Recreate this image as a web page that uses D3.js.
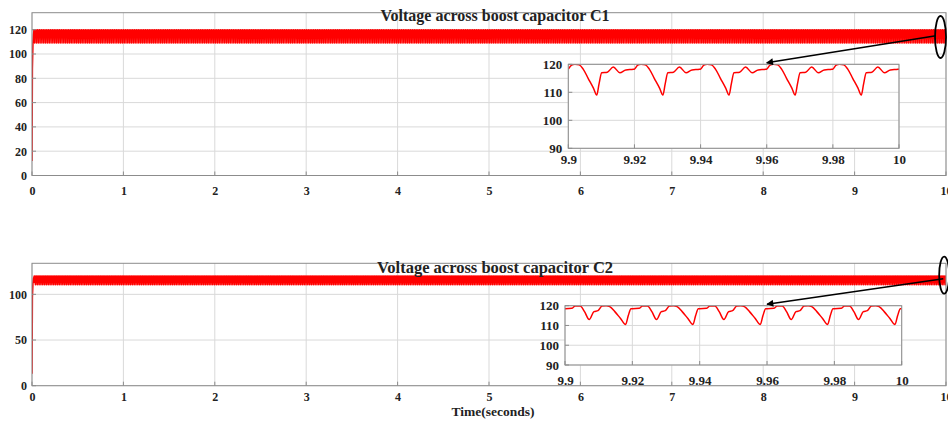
<!DOCTYPE html>
<html>
<head>
<meta charset="utf-8">
<script src="https://cdn.jsdelivr.net/npm/d3@7"></script>
<style>
  html, body { margin: 0; padding: 0; background: #fff; overflow: hidden; }
  svg text { font-family: "Liberation Serif", "Times New Roman", serif; font-weight: bold; fill: #222; }
</style>
</head>
<body>
<svg id="chart" width="948" height="421"></svg>
<script>
// ---- data -------------------------------------------------------------
const period = 0.02;          // switching ripple period (s)
const tEnd = 10;              // simulation length (s)

const mainTicksX = [0, 1, 2, 3, 4, 5, 6, 7, 8, 9, 10];
const c1TicksY = [0, 20, 40, 60, 80, 100, 120];
const c2TicksY = [0, 50, 100];
const insetTicksX = [9.9, 9.92, 9.94, 9.96, 9.98, 10];
const insetTickLabelsX = ["9.9", "9.92", "9.94", "9.96", "9.98", "10"];
const insetTicksY = [90, 100, 110, 120];

// start-up transient of C1 (time s, voltage V)
const c1StartT = [0, 0.004, 0.010, 0.016];
const c1StartV = [12, 88, 108, 116];
// one steady-state ripple cycle of C1 (phase within period s, voltage V)
const c1CyclePhase = [0, 0.0010, 0.0020, 0.0033, 0.0045, 0.0060, 0.0076, 0.0086, 0.0093, 0.0101, 0.0118, 0.0136, 0.0156, 0.0174, 0.0197];
const c1CycleV     = [118.3, 119.7, 120, 119.8, 118.3, 115, 111.5, 109, 113, 117, 117.2, 119, 117, 118, 118.2];

// start-up transient of C2
const c2StartT = [0, 0.004, 0.010, 0.016];
const c2StartV = [13, 97, 112, 117];
// one steady-state ripple cycle of C2
const c2CyclePhase = [0, 0.0020, 0.0030, 0.0045, 0.0058, 0.0072, 0.0086, 0.0098, 0.0110, 0.0122, 0.0133, 0.0148, 0.0165, 0.0180, 0.0188, 0.0196];
const c2CycleV     = [118.5, 118.7, 119.8, 119.9, 117, 113, 117, 117.5, 119.8, 120, 119.5, 117, 113.5, 110.5, 115, 118.5];

const titles = ["Voltage across boost capacitor C1", "Voltage across boost capacitor C2"];
const xLabel = "Time(seconds)";

// ---- build the full waveforms: transient, then the ripple cycle repeated
function buildSeries(startT, startV, phase, volt) {
  const pts = startT.map((t, i) => [t, startV[i]]);
  const nCycles = Math.round(tEnd / period);
  for (let k = 1; k < nCycles; k++) {
    const t0 = k * period;
    phase.forEach((p, i) => pts.push([t0 + p, volt[i]]));
  }
  pts.push([tEnd, volt[0]]);
  return pts;
}
const c1Series = buildSeries(c1StartT, c1StartV, c1CyclePhase, c1CycleV);
const c2Series = buildSeries(c2StartT, c2StartV, c2CyclePhase, c2CycleV);

// ---- drawing ----------------------------------------------------------
const svg = d3.select("#chart");
const gridColor = "#d9d9d9";
const frameColor = "#8c8c8c";
const red = "#ff0000";

let clipId = 0;
function panelFrame(g, x, y, xt, yt) {
  const [x0, x1] = x.range();
  const [y1, y0] = y.range();
  g.append("rect").attr("x", x0).attr("y", y0).attr("width", x1 - x0).attr("height", y1 - y0)
    .attr("fill", "#fff");
  g.append("g").selectAll("line").data(xt).join("line")
    .attr("x1", d => x(d)).attr("x2", d => x(d)).attr("y1", y0).attr("y2", y1)
    .attr("stroke", gridColor).attr("stroke-width", 1);
  g.append("g").selectAll("line").data(yt).join("line")
    .attr("x1", x0).attr("x2", x1).attr("y1", d => y(d)).attr("y2", d => y(d))
    .attr("stroke", gridColor).attr("stroke-width", 1);
}
function panelBox(g, x, y, xt, yt) {
  const [x0, x1] = x.range();
  const [y1, y0] = y.range();
  g.append("g").selectAll("line").data(xt).join("line")
    .attr("x1", d => x(d)).attr("x2", d => x(d)).attr("y1", y1).attr("y2", y1 - 4)
    .attr("stroke", frameColor);
  g.append("g").selectAll("line").data(yt).join("line")
    .attr("x1", x0).attr("x2", x0 + 4).attr("y1", d => y(d)).attr("y2", d => y(d))
    .attr("stroke", frameColor);
  g.append("rect").attr("x", x0).attr("y", y0).attr("width", x1 - x0).attr("height", y1 - y0)
    .attr("fill", "none").attr("stroke", frameColor).attr("stroke-width", 1);
}
function tickLabels(g, x, y, xt, xlabels, yt, fs, xBase, yGap) {
  const [x0] = x.range();
  const [y1] = y.range();
  const ax = d3.axisBottom(x).tickValues(xt).tickSize(0).tickPadding(0)
    .tickFormat((d, i) => xlabels ? xlabels[i] : d3.format("d")(d));
  const gx = g.append("g").attr("transform", `translate(0,${y1 + xBase})`).call(ax);
  gx.select(".domain").remove();
  gx.selectAll("text").attr("dy", 0).attr("y", 0).style("font-size", fs + "px");
  const ay = d3.axisLeft(y).tickValues(yt).tickSize(0).tickPadding(yGap).tickFormat(d3.format("d"));
  const gy = g.append("g").attr("transform", `translate(${x0},0)`).call(ay);
  gy.select(".domain").remove();
  gy.selectAll("text").attr("dy", "0.33em").style("font-size", fs + "px");
  g.selectAll(".tick text").attr("font-family", null).attr("font-size", null).attr("fill", null);
}
function drawLine(g, x, y, data, width, curve) {
  const [x0, x1] = x.range();
  const [y1, y0] = y.range();
  const id = "clip" + (clipId++);
  g.append("clipPath").attr("id", id).append("rect")
    .attr("x", x0).attr("y", y0).attr("width", x1 - x0).attr("height", y1 - y0);
  g.append("path").datum(data).attr("clip-path", `url(#${id})`)
    .attr("d", d3.line().x(d => x(d[0])).y(d => y(d[1])).curve(curve))
    .attr("fill", "none").attr("stroke", red).attr("stroke-width", width)
    .attr("stroke-linejoin", "round");
}

const defs = svg.append("defs");
defs.append("marker").attr("id", "arrowHead").attr("viewBox", "0 0 10 10")
  .attr("refX", 9).attr("refY", 5).attr("markerWidth", 9).attr("markerHeight", 7)
  .attr("markerUnits", "userSpaceOnUse").attr("orient", "auto")
  .append("path").attr("d", "M0,0 L10,5 L0,10 z").attr("fill", "#000");

const panels = [
  { series: c1Series, yt: c1TicksY, title: titles[0], titleSize: 16,
    box: { x0: 32, x1: 946, y0: 12.7, y1: 175.5 }, titleY: 21, xBase: 19.5,
    inset: { x0: 568.3, x1: 899, y0: 64.3, y1: 148.3, xBase: 16, fs: 13 },
    ellipse: { t: 9.94, v: 114, rx: 5.5, ry: 21 }, arrowFrom: { t: 9.89, v: 115 } },
  { series: c2Series, yt: c2TicksY, title: titles[1], titleSize: 16.5,
    box: { x0: 32, x1: 946, y0: 263.3, y1: 385.7 }, titleY: 273, xBase: 15.5,
    inset: { x0: 565, x1: 901.7, y0: 305.7, y1: 365, xBase: 20, fs: 13 },
    ellipse: { t: 9.98, v: 121, rx: 5, ry: 18.5 }, arrowFrom: { t: 9.97, v: 117 } }
];

panels.forEach(p => {
  const g = svg.append("g");
  const x = d3.scaleLinear().domain([0, tEnd]).range([p.box.x0, p.box.x1]);
  const y = d3.scaleLinear().domain([0, 134]).range([p.box.y1, p.box.y0]);
  panelFrame(g, x, y, mainTicksX, p.yt);
  drawLine(g, x, y, p.series, 1.6, d3.curveLinear);
  panelBox(g, x, y, mainTicksX, p.yt);
  tickLabels(g, x, y, mainTicksX, null, p.yt, 12, p.xBase, 5);

  g.append("text").attr("x", 495).attr("y", p.titleY).attr("text-anchor", "middle")
    .style("font-size", p.titleSize + "px").text(p.title);

  // zoomed inset of the last 0.1 s
  const gi = svg.append("g");
  const xi = d3.scaleLinear().domain([9.9, 10]).range([p.inset.x0, p.inset.x1]);
  const yi = d3.scaleLinear().domain([90, 120]).range([p.inset.y1, p.inset.y0]);
  const tail = p.series.filter(d => d[0] >= 9.9 - 1e-9);
  panelFrame(gi, xi, yi, insetTicksX, insetTicksY);
  drawLine(gi, xi, yi, tail, 1.5, d3.curveMonotoneX);
  panelBox(gi, xi, yi, insetTicksX, insetTicksY);
  tickLabels(gi, xi, yi, insetTicksX, insetTickLabelsX, insetTicksY, p.inset.fs, p.inset.xBase, 6);

  // highlight ellipse and pointer arrow
  const ex = x(p.ellipse.t), ey = y(p.ellipse.v);
  svg.append("ellipse").attr("cx", ex).attr("cy", ey).attr("rx", p.ellipse.rx).attr("ry", p.ellipse.ry)
    .attr("fill", "none").attr("stroke", "#000").attr("stroke-width", 1.8);
  svg.append("line")
    .attr("x1", x(p.arrowFrom.t)).attr("y1", y(p.arrowFrom.v))
    .attr("x2", xi(9.96)).attr("y2", yi(120) - 1.5)
    .attr("stroke", "#000").attr("stroke-width", 1.6).attr("marker-end", "url(#arrowHead)");
});

svg.append("text").attr("x", 493).attr("y", 416).attr("text-anchor", "middle")
  .style("font-size", "13.5px").text(xLabel);
</script>
</body>
</html>
